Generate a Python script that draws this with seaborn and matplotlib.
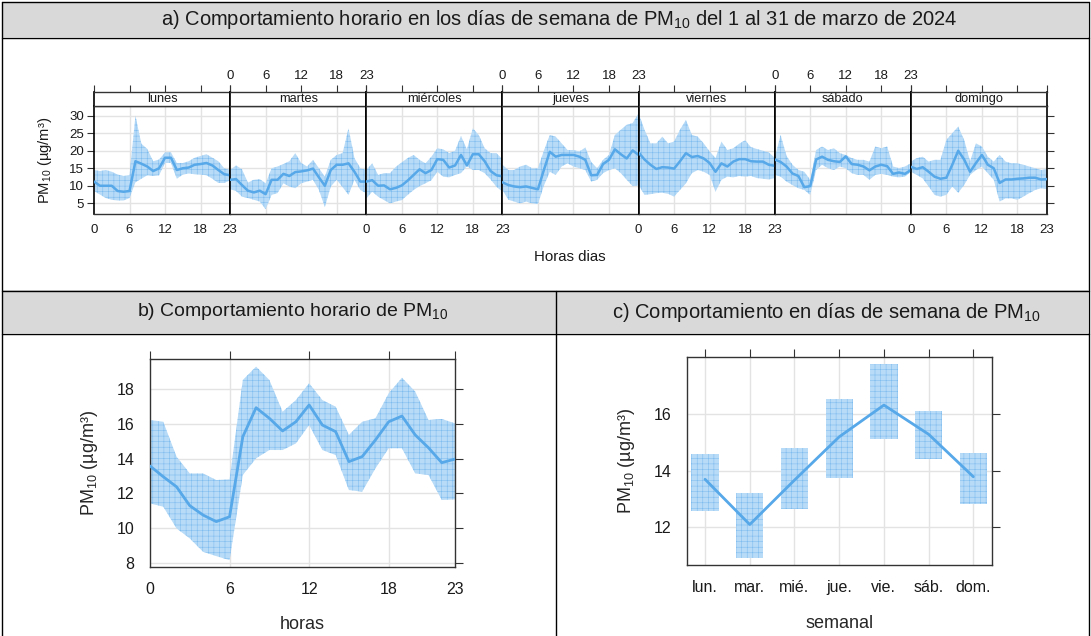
import matplotlib
matplotlib.use("Agg")
import matplotlib.pyplot as plt
from matplotlib.lines import Line2D
from matplotlib.patches import Rectangle
import seaborn as sns

# ---------------- datos ----------------
horas = list(range(24))
dias = ["lunes", "martes", "miércoles", "jueves", "viernes", "sábado", "domingo"]
dias_cortos = ["lun.", "mar.", "mié.", "jue.", "vie.", "sáb.", "dom."]

# a) media horaria por día de semana y su intervalo de confianza
media_dia = {
    "lunes": [11.2, 10.0, 10.0, 10.0, 8.5, 8.3, 8.5, 17.0, 16.3, 15.5, 14.2, 15.0,
              18.0, 18.0, 14.5, 15.0, 15.2, 16.0, 16.2, 16.5, 15.8, 14.5, 13.3, 13.0],
    "martes": [11.7, 11.9, 10.2, 8.6, 8.1, 8.6, 7.6, 11.7, 11.7, 13.4, 12.8, 13.9,
               14.1, 14.4, 14.9, 12.4, 10.0, 14.5, 16.0, 16.0, 16.4, 14.0, 11.2, 11.2],
    "miércoles": [11.2, 11.6, 10.0, 10.1, 9.0, 9.4, 10.1, 11.5, 13.1, 14.7, 13.6, 14.5,
                  17.6, 17.4, 15.2, 15.8, 18.8, 15.8, 19.0, 19.0, 17.0, 14.2, 13.0, 12.7],
    "jueves": [11.0, 10.2, 9.8, 9.6, 9.8, 9.4, 9.0, 14.5, 19.7, 18.3, 18.8, 18.8,
               18.8, 18.3, 17.4, 13.0, 13.1, 16.2, 17.4, 20.4, 19.0, 17.8, 20.1, 18.8],
    "viernes": [19.5, 17.5, 16.0, 14.8, 15.3, 15.2, 14.9, 17.0, 19.3, 18.2, 18.5, 17.8,
                16.5, 14.0, 16.4, 15.5, 16.9, 17.6, 17.6, 17.0, 16.9, 16.9, 16.0, 15.7],
    "sábado": [17.5, 16.8, 15.5, 13.5, 12.8, 9.6, 9.9, 17.5, 18.3, 17.4, 17.0, 16.8,
               18.4, 16.2, 16.0, 15.5, 14.4, 15.5, 16.0, 15.6, 13.4, 13.8, 13.4, 14.5],
    "domingo": [15.4, 14.8, 15.3, 14.0, 12.6, 12.0, 12.3, 16.0, 20.0, 17.5, 14.0, 16.5,
                18.8, 16.0, 15.0, 10.8, 11.8, 11.8, 12.0, 12.1, 12.3, 12.3, 11.8, 11.9],
}
bajo_dia = {
    "lunes": [8.5, 7.5, 6.5, 6.0, 5.8, 5.8, 6.5, 11.0, 12.0, 13.0, 12.8, 13.0,
              16.5, 16.5, 12.0, 13.2, 13.5, 13.3, 13.2, 13.0, 12.0, 10.8, 10.8, 11.5],
    "martes": [9.0, 8.5, 6.9, 6.5, 6.0, 5.5, 3.3, 7.4, 7.9, 10.7, 9.8, 9.3,
               10.7, 11.2, 11.7, 8.8, 3.9, 9.8, 11.7, 9.6, 7.4, 11.7, 8.8, 7.9],
    "miércoles": [6.4, 8.3, 6.9, 5.9, 5.0, 5.5, 5.9, 7.4, 8.8, 9.9, 10.7, 11.6,
                  14.0, 12.6, 12.4, 13.1, 13.6, 15.6, 14.5, 14.5, 13.6, 11.8, 9.7, 8.3],
    "jueves": [8.8, 6.0, 5.5, 5.0, 5.5, 5.0, 4.8, 10.0, 14.0, 13.1, 15.5, 16.4,
               15.5, 15.0, 14.5, 11.2, 11.7, 13.6, 14.5, 15.0, 13.6, 11.7, 9.9, 10.1],
    "viernes": [10.2, 7.4, 7.6, 7.9, 8.0, 7.7, 6.9, 8.8, 10.7, 13.6, 14.5, 14.0,
                13.1, 8.3, 11.7, 12.6, 12.4, 12.8, 12.6, 12.8, 12.2, 12.0, 11.8, 12.2],
    "sábado": [13.1, 12.6, 11.2, 10.2, 9.3, 8.8, 7.4, 14.5, 16.0, 15.0, 14.5, 15.5,
               15.0, 13.6, 13.1, 13.1, 11.7, 13.1, 13.4, 13.1, 12.6, 12.4, 12.6, 14.0],
    "domingo": [14.0, 13.1, 12.1, 9.8, 7.4, 6.9, 7.4, 9.8, 8.0, 10.2, 13.1, 14.5,
                15.5, 13.6, 11.7, 5.5, 6.4, 6.4, 6.0, 6.9, 7.9, 8.8, 9.3, 9.0],
}
alto_dia = {
    "lunes": [14.5, 14.2, 14.5, 14.0, 13.2, 12.8, 13.0, 30.0, 22.0, 20.5, 17.0, 17.5,
              19.5, 19.5, 16.5, 16.5, 17.0, 18.0, 18.5, 19.0, 18.0, 17.0, 15.0, 14.5],
    "martes": [14.5, 15.8, 14.7, 10.9, 11.7, 11.9, 10.7, 15.0, 15.5, 16.2, 17.0, 19.3,
               16.5, 15.5, 17.4, 15.0, 12.6, 17.4, 18.8, 19.3, 26.4, 17.9, 15.0, 14.5],
    "miércoles": [14.5, 16.4, 13.1, 13.6, 13.6, 15.4, 16.7, 17.9, 18.8, 17.4, 16.4, 18.3,
                  20.7, 20.4, 19.3, 20.0, 24.2, 20.4, 26.4, 24.5, 20.7, 19.3, 19.3, 17.6],
    "jueves": [16.0, 14.5, 14.5, 15.5, 16.0, 15.0, 15.0, 20.0, 24.5, 24.0, 22.1, 20.2,
               20.2, 19.8, 20.9, 16.8, 15.0, 17.4, 18.8, 24.5, 26.0, 27.4, 27.9, 30.7],
    "viernes": [30.7, 26.0, 22.1, 22.1, 24.0, 22.1, 22.6, 26.0, 28.8, 24.5, 24.0, 22.1,
                19.8, 17.9, 22.6, 20.2, 20.7, 22.0, 23.0, 21.0, 20.5, 20.0, 19.5, 18.0],
    "sábado": [17.9, 24.5, 18.5, 16.0, 14.5, 14.0, 11.7, 20.2, 21.2, 20.2, 20.7, 19.3,
               18.8, 17.9, 17.4, 17.4, 16.9, 21.2, 20.7, 21.2, 15.5, 15.0, 15.5, 16.4],
    "domingo": [16.9, 17.9, 18.3, 16.9, 17.4, 17.4, 23.1, 25.0, 26.9, 23.1, 17.0, 22.1,
                21.2, 18.3, 16.9, 18.8, 16.9, 16.4, 16.4, 16.0, 15.5, 15.0, 14.5, 14.7],
}

# b) media horaria
media_hora = [13.58, 12.96, 12.38, 11.29, 10.75, 10.37, 10.65, 15.27, 16.94, 16.33, 15.60, 16.13,
              17.10, 15.94, 15.56, 13.83, 14.12, 15.08, 16.13, 16.46, 15.37, 14.63, 13.77, 13.98]
bajo_hora = [11.42, 11.23, 9.98, 9.40, 8.63, 8.38, 8.15, 13.06, 14.02, 14.50, 14.50, 14.88,
             15.94, 14.50, 14.21, 12.19, 12.10, 13.44, 14.60, 14.60, 13.15, 13.06, 11.62, 11.65]
alto_hora = [16.23, 16.13, 14.12, 13.15, 13.15, 12.77, 12.81, 18.54, 19.31, 18.54, 16.71, 17.38,
             18.35, 17.38, 17.00, 15.37, 16.13, 16.33, 17.77, 18.67, 17.87, 16.23, 16.29, 16.04]

# c) media por día de semana
media_semana = [13.69, 12.08, 13.66, 15.20, 16.33, 15.29, 13.78]
bajo_semana = [12.57, 10.90, 12.62, 13.72, 15.11, 14.40, 12.80]
alto_semana = [14.59, 13.19, 14.79, 16.53, 17.79, 16.12, 14.61]

# ---------------- estilo ----------------
LINEA = "#56a8e8"
RELLENO = "#b8dbf7"
TRAMA = "#80bdef"
REJILLA = "#e3e3e3"
BORDE = "#333333"
GRIS = "#d9d9d9"

sns.set_theme(style="white")
plt.rcParams["font.family"] = ["Liberation Sans", "DejaVu Sans"]
plt.rcParams["mathtext.fontset"] = "custom"
plt.rcParams["mathtext.rm"] = "Liberation Sans"
plt.rcParams["mathtext.it"] = "Liberation Sans:italic"
plt.rcParams["mathtext.bf"] = "Liberation Sans:bold"
plt.rcParams["mathtext.default"] = "regular"
plt.rcParams["hatch.linewidth"] = 0.4
plt.rcParams["text.color"] = "#1a1a1a"
plt.rcParams["xtick.color"] = BORDE
plt.rcParams["ytick.color"] = BORDE
plt.rcParams["xtick.labelcolor"] = "#1a1a1a"
plt.rcParams["ytick.labelcolor"] = "#1a1a1a"

W, H = 1091, 636
fig = plt.figure(figsize=(W / 100, H / 100), dpi=100)
fig.patch.set_facecolor("white")


def caja(x0, y0, x1, y1):
    return [x0 / W, 1 - y1 / H, (x1 - x0) / W, (y1 - y0) / H]


def banda(ax, x, lo, hi, **kw):
    ax.fill_between(x, lo, hi, facecolor=RELLENO, edgecolor=TRAMA, hatch="+++",
                    linewidth=0, zorder=2, **kw)


def marco(ax, lw=1.0):
    for s in ax.spines.values():
        s.set_color(BORDE)
        s.set_linewidth(lw)


# ---------------- tabla (fondos y líneas) ----------------
fig.add_artist(Rectangle((2 / W, 1 - 37 / H), 1086 / W, 35 / H, transform=fig.transFigure,
                         facecolor=GRIS, edgecolor="none", zorder=0))
fig.add_artist(Rectangle((2 / W, 1 - 333 / H), 1086 / W, 43 / H, transform=fig.transFigure,
                         facecolor=GRIS, edgecolor="none", zorder=0))
for (xa, ya, xb, yb) in [(1.5, 1.5, 1088.5, 1.5), (1.5, 37.5, 1088.5, 37.5),
                         (1.5, 290.5, 1088.5, 290.5), (1.5, 333.5, 1088.5, 333.5),
                         (1.5, 1.5, 1.5, 636), (1088.5, 1.5, 1088.5, 636),
                         (555.5, 290.5, 555.5, 636)]:
    fig.add_artist(Line2D([xa / W, xb / W], [1 - ya / H, 1 - yb / H], transform=fig.transFigure,
                          color="black", linewidth=1.0, zorder=5))

fig.text(559 / W, 1 - 19.5 / H,
         "a) Comportamiento horario en los días de semana de PM$_{10}$ del 1 al 31 de marzo de 2024",
         ha="center", va="center", fontsize=14.5)
fig.text(293 / W, 1 - 312 / H, "b) Comportamiento horario de PM$_{10}$",
         ha="center", va="center", fontsize=14)
fig.text(826 / W, 1 - 312 / H, "c) Comportamiento en días de semana de PM$_{10}$",
         ha="center", va="center", fontsize=14.5)

# ---------------- a) paneles por día ----------------
x_ini, x_fin = 94, 1047
ancho = (x_fin - x_ini) / 7
ticks_h = [0, 6, 12, 18, 23]
for i, dia in enumerate(dias):
    x0 = x_ini + i * ancho
    ax = fig.add_axes(caja(x0, 105.7, x0 + ancho, 214.3))
    for yv in [5, 10, 15, 20, 25, 30]:
        ax.axhline(yv, color=REJILLA, lw=1, zorder=0)
    for xv in ticks_h[1:-1]:
        ax.axvline(xv, color=REJILLA, lw=1, zorder=0)
    banda(ax, horas, bajo_dia[dia], alto_dia[dia])
    sns.lineplot(x=horas, y=media_dia[dia], ax=ax, color=LINEA, linewidth=1.8, zorder=3)
    ax.set_xlim(0, 23)
    ax.set_ylim(1.86, 32.85)
    ax.set_xlabel("")
    ax.set_ylabel("")
    ax.set_xticks(ticks_h)
    ax.set_yticks([5, 10, 15, 20, 25, 30])
    ax.tick_params(axis="x", direction="out", length=5, width=0.8, labelsize=9.5, pad=2,
                   labelbottom=(i % 2 == 0))
    ax.tick_params(axis="y", direction="out", length=5, width=0.8, labelsize=9.5, pad=2,
                   left=(i == 0), labelleft=(i == 0), right=(i == 6), labelright=False)
    marco(ax)
    for lado in ["left", "right"]:
        ax.spines[lado].set_color("black")
        ax.spines[lado].set_linewidth(1.2)

    # tira con el nombre del día y marcas superiores
    st = fig.add_axes(caja(x0, 91.7, x0 + ancho, 105.7))
    st.set_xlim(0, 23)
    st.set_ylim(0, 1)
    st.set_yticks([])
    st.set_xticks(ticks_h)
    st.xaxis.tick_top()
    st.tick_params(axis="x", direction="out", length=5, width=0.8, labelsize=9.5, pad=2,
                   labeltop=(i % 2 == 1), bottom=False, labelbottom=False)
    st.text(11.5, 0.45, dia, ha="center", va="center", fontsize=9.2)
    marco(st)
    for lado in ["left", "right"]:
        st.spines[lado].set_color("black")
        st.spines[lado].set_linewidth(1.2)

fig.text(570 / W, 1 - 257 / H, "Horas dias", ha="center", va="center", fontsize=10.8)
fig.text(45 / W, 1 - 160 / H, "PM$_{10}$ (µg/m³)", ha="center", va="center",
         rotation=90, fontsize=10.6)

# ---------------- b) perfil horario ----------------
axb = fig.add_axes(caja(150, 359, 455, 566.7))
for yv in range(8, 19, 2):
    axb.axhline(yv, color=REJILLA, lw=1, zorder=0)
for xv in [6, 12, 18]:
    axb.axvline(xv, color=REJILLA, lw=1, zorder=0)
banda(axb, horas, bajo_hora, alto_hora)
sns.lineplot(x=horas, y=media_hora, ax=axb, color=LINEA, linewidth=2, zorder=3)
axb.set_xlim(0, 23)
axb.set_ylim(7.77, 19.75)
axb.set_xticks(ticks_h)
axb.set_yticks(range(8, 19, 2))
axb.tick_params(direction="out", length=6, width=0.8, labelsize=11.5, pad=5,
                top=True, right=True, labeltop=False, labelright=False)
axb.set_xlabel("horas", fontsize=13, labelpad=14)
axb.set_ylabel("PM$_{10}$ (µg/m³)", fontsize=13, labelpad=12)
marco(axb)

# ---------------- c) perfil semanal ----------------
pos = list(range(7))
axc = fig.add_axes(caja(686.7, 357.3, 991.7, 565))
for yv in [12, 14, 16]:
    axc.axhline(yv, color=REJILLA, lw=1, zorder=0)
for xv in pos:
    axc.axvline(xv, color=REJILLA, lw=1, zorder=0)
altura = [a - b for a, b in zip(alto_semana, bajo_semana)]
axc.bar(pos, altura, bottom=bajo_semana, width=0.61, facecolor=RELLENO, edgecolor=TRAMA,
        hatch="+++", linewidth=0, zorder=2)
sns.lineplot(x=pos, y=media_semana, ax=axc, color=LINEA, linewidth=2, zorder=3)
axc.set_xlim(-0.41, 6.41)
axc.set_ylim(10.64, 18.03)
axc.set_xticks(pos)
axc.set_xticklabels(dias_cortos)
axc.set_yticks([12, 14, 16])
axc.tick_params(direction="out", length=6, width=0.8, labelsize=11.5, pad=5,
                top=True, right=True, labeltop=False, labelright=False)
axc.set_xlabel("semanal", fontsize=13, labelpad=14)
axc.set_ylabel("PM$_{10}$ (µg/m³)", fontsize=13, labelpad=12)
marco(axc)

fig.savefig("out.png", dpi=100)
